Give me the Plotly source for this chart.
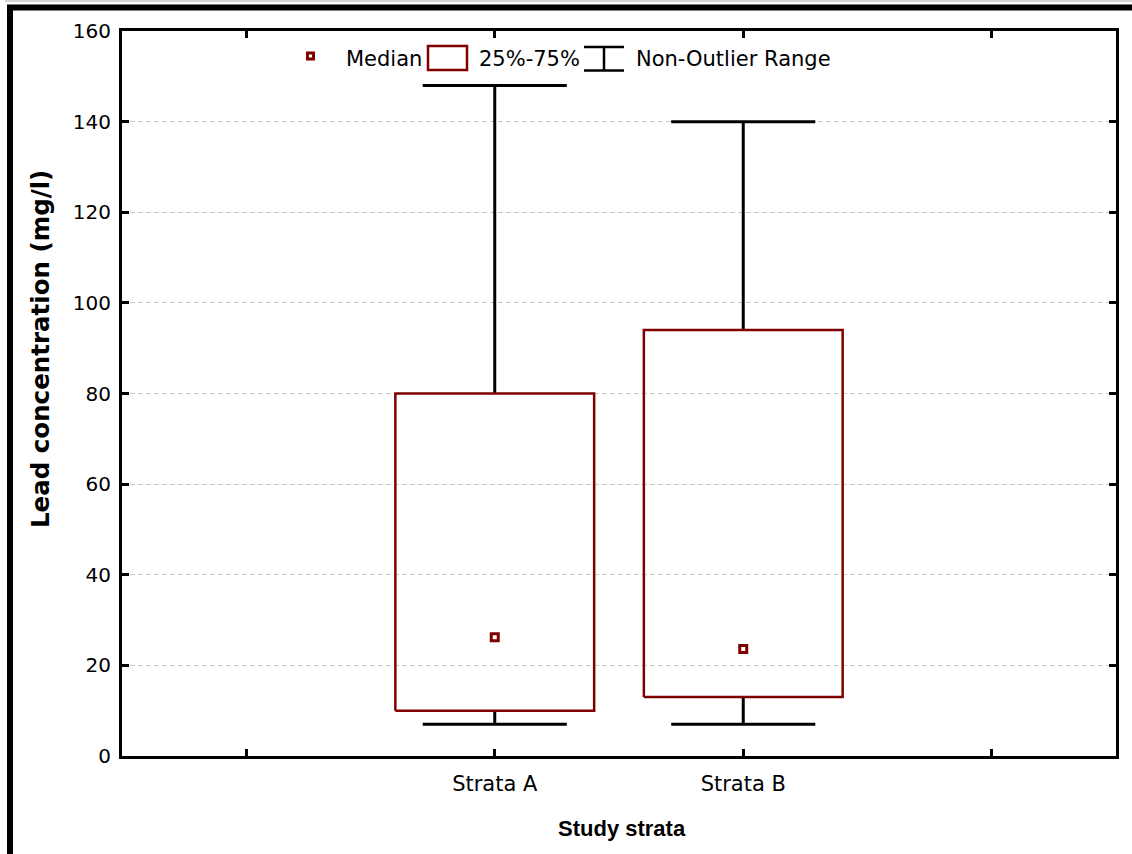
import plotly.graph_objects as go

# ---- data ----
categories = ["Strata A", "Strata B"]
cat_pos = [2, 3]
q1 = [10, 13]
q3 = [80, 94]
median = [26.2, 23.6]
whisker_low = [7, 7]
whisker_high = [148, 140]

tick_positions = [1, 2, 3, 4]
tick_labels = ["", "Strata A", "Strata B", ""]
y_ticks = [0, 20, 40, 60, 80, 100, 120, 140, 160]

BOX_HW = 0.4
CAP_HW = 0.29
DARKRED = "#800000"

W, H = 1132, 854
ML, MR, MT, MB = 122, 16, 31, 98
PW = W - ML - MR
PH = H - MT - MB


def px(xp):
    return (xp - ML) / PW


def py(yp):
    return (H - MB - yp) / PH


fig = go.Figure()

for c, a, b, m, lo, hi in zip(cat_pos, q1, q3, median, whisker_low, whisker_high):
    # whiskers (stems + caps)
    fig.add_trace(go.Scatter(
        x=[c, c, None, c - CAP_HW, c + CAP_HW, None, c, c, None, c - CAP_HW, c + CAP_HW],
        y=[b, hi, None, hi, hi, None, a, lo, None, lo, lo],
        mode="lines", line=dict(color="black", width=3),
        hoverinfo="skip", showlegend=False))
    # box
    fig.add_trace(go.Scatter(
        x=[c - BOX_HW, c + BOX_HW, c + BOX_HW, c - BOX_HW, c - BOX_HW],
        y=[a, a, b, b, a],
        mode="lines", line=dict(color=DARKRED, width=2.5),
        hoverinfo="skip", showlegend=False))
    # median
    fig.add_trace(go.Scatter(
        x=[c], y=[m], mode="markers",
        marker=dict(symbol="square", size=7, color="white",
                    line=dict(color=DARKRED, width=3)),
        showlegend=False))

shapes = []
# outer frame
shapes.append(dict(type="line", xref="paper", yref="paper",
                   x0=px(5), x1=px(1140), y0=py(1), y1=py(1),
                   line=dict(color="#d4d4d4", width=2)))
shapes.append(dict(type="line", xref="paper", yref="paper",
                   x0=px(7), x1=px(1140), y0=py(7.5), y1=py(7.5),
                   line=dict(color="black", width=6)))
shapes.append(dict(type="line", xref="paper", yref="paper",
                   x0=px(10), x1=px(10), y0=py(5), y1=py(860),
                   line=dict(color="black", width=6)))

# legend symbols
shapes.append(dict(type="rect", xref="paper", yref="paper",
                   x0=px(307.5), x1=px(313.5), y0=py(53), y1=py(59),
                   line=dict(color=DARKRED, width=3), fillcolor="white"))
shapes.append(dict(type="rect", xref="paper", yref="paper",
                   x0=px(428), x1=px(467), y0=py(46), y1=py(70),
                   line=dict(color=DARKRED, width=2.5)))
for yy in (47, 70.5):
    shapes.append(dict(type="line", xref="paper", yref="paper",
                       x0=px(584), x1=px(624), y0=py(yy), y1=py(yy),
                       line=dict(color="black", width=2.5)))
shapes.append(dict(type="line", xref="paper", yref="paper",
                   x0=px(604), x1=px(604), y0=py(47), y1=py(70.5),
                   line=dict(color="black", width=2.5)))

legend_font = dict(family="DejaVu Sans", size=21, color="black")
annotations = [
    dict(text="Median", x=px(344), y=py(59), xref="paper", yref="paper",
         xanchor="left", yanchor="middle", showarrow=False, font=legend_font),
    dict(text="25%-75%", x=px(477), y=py(59), xref="paper", yref="paper",
         xanchor="left", yanchor="middle", showarrow=False, font=legend_font),
    dict(text="Non-Outlier Range", x=px(634), y=py(59), xref="paper", yref="paper",
         xanchor="left", yanchor="middle", showarrow=False, font=legend_font),
    dict(text="<b>Study strata</b>", x=px(622), y=py(828), xref="paper", yref="paper",
         xanchor="center", yanchor="middle", showarrow=False,
         font=dict(family="Liberation Sans", size=22, color="black")),
    dict(text="<b>Lead concentration (mg/l)</b>", x=px(40), y=py(349),
         xref="paper", yref="paper", textangle=-90,
         xanchor="center", yanchor="middle", showarrow=False,
         font=dict(family="DejaVu Sans", size=24.5, color="black")),
]

fig.update_layout(
    width=W, height=H,
    margin=dict(l=ML, r=MR, t=MT, b=MB, pad=0),
    paper_bgcolor="white", plot_bgcolor="white",
    showlegend=False,
    shapes=shapes, annotations=annotations,
    xaxis=dict(range=[0.5, 4.5], tickmode="array", tickvals=tick_positions,
               ticktext=tick_labels, showgrid=False, zeroline=False,
               showline=True, linecolor="black", linewidth=3, mirror="ticks",
               ticks="inside", ticklen=7, tickwidth=3, tickcolor="black",
               ticklabelstandoff=7,
               tickfont=dict(family="DejaVu Sans", size=21, color="black")),
    yaxis=dict(range=[0, 160], tickmode="array", tickvals=y_ticks,
               showgrid=True, gridcolor="#c8c8c8", gridwidth=1, griddash="5px,3px",
               zeroline=False,
               showline=True, linecolor="black", linewidth=3, mirror="ticks",
               ticks="inside", ticklen=7, tickwidth=3, tickcolor="black",
               ticklabelstandoff=4,
               tickfont=dict(family="DejaVu Sans", size=20, color="black")),
)

fig.write_html("out.html", config={"displayModeBar": False},
               post_script="document.body.style.margin='0';document.body.style.overflow='hidden';")
